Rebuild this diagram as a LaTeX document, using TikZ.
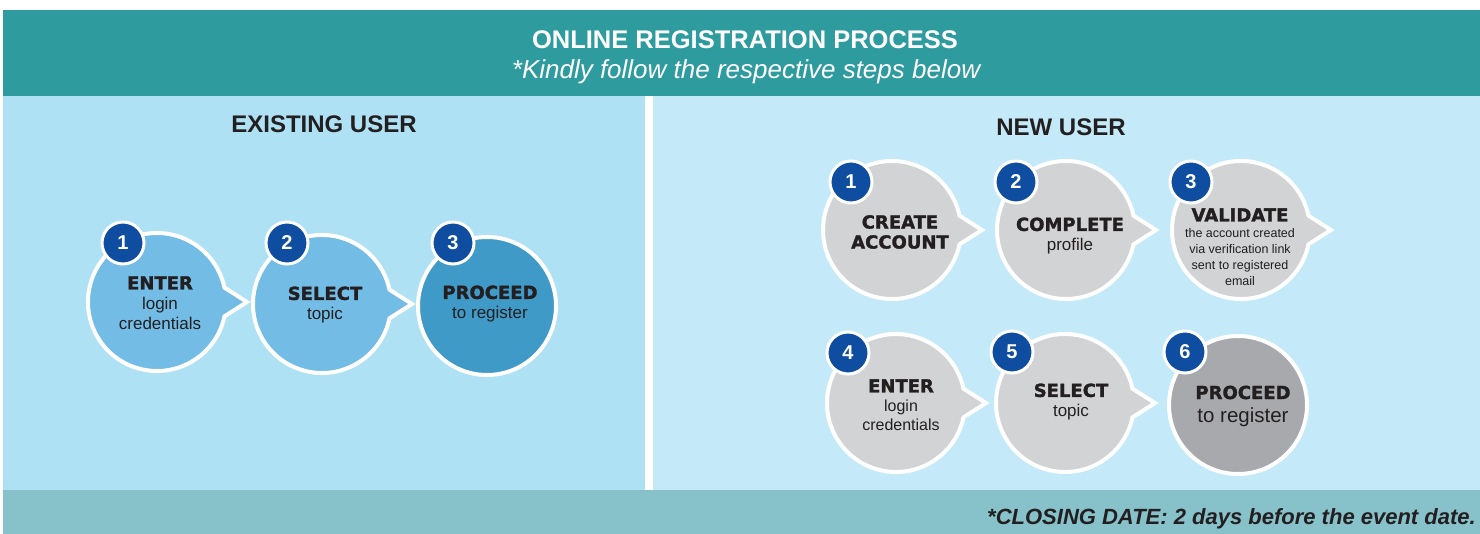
\documentclass[tikz,border=0pt]{standalone}
\usepackage{fontspec}
\setmainfont{Liberation Sans}
\newfontfamily\heavyfont{DejaVu Sans}[BoldFeatures={FakeBold=1.6}]

\definecolor{headteal}{HTML}{2E9B9F}
\definecolor{leftsky}{HTML}{AFE1F5}
\definecolor{rightsky}{HTML}{C4E9F9}
\definecolor{footteal}{HTML}{87C1CA}
\definecolor{skyblue}{HTML}{73BCE6}
\definecolor{deepblue}{HTML}{3F9AC7}
\definecolor{softgrey}{HTML}{D1D3D4}
\definecolor{darkgrey}{HTML}{A7A9AC}
\definecolor{badgeblue}{HTML}{0E4DA0}
\definecolor{ink}{HTML}{231F20}

\newcommand{\stepword}[1]{{\heavyfont\bfseries\fontsize{18}{20}\selectfont #1}}

\tikzset{
    bubble/.style={draw=white, line width=4pt, fill=#1},
    endbubble/.style={circle, draw=white, line width=4pt, fill=#1, minimum size=138pt, inner sep=0pt},
    badge/.style={circle, fill=badgeblue, draw=white, line width=3pt, minimum size=42pt, inner sep=0pt,
        text=white, font=\bfseries\fontsize{20}{20}\selectfont},
    steptext/.style={align=center, text=ink, inner sep=0pt, font=\fontsize{17}{20}\selectfont},
    heading/.style={text=ink, inner sep=0pt, font=\bfseries\fontsize{24}{28}\selectfont},
}

\begin{document}
\begin{tikzpicture}[x=1pt, y=-1pt]
        \useasboundingbox (0,0) rectangle (1480,534);
        \fill[white] (0,0) rectangle (1480,534);
        % bands and panels
        \fill[headteal] (3,10) rectangle (1480,96);
        \fill[leftsky] (3,96) rectangle (645,490);
        \fill[rightsky] (653,96) rectangle (1480,490);
        \fill[footteal] (3,490) rectangle (1480,534);

        \node[text=white, inner sep=0pt, font=\bfseries\fontsize{25.5}{28}\selectfont] (title) at (745,40) {ONLINE REGISTRATION PROCESS};
        \node[text=white, inner sep=0pt, font=\itshape\fontsize{26}{28}\selectfont] (subtitle) at (746,72) {*Kindly follow the respective steps below};
        \node[heading] (existing) at (324,124) {EXISTING USER};
        \node[heading] (newuser) at (1061,127) {NEW USER};
        \node[text=ink, anchor=east, inner sep=0pt, font=\bfseries\itshape\fontsize{22}{24}\selectfont] (closing) at (1476,519) {*CLOSING DATE: 2 days before the event date.};

        % bubbles with a tail
        \foreach \cx/\cy/\col in {157/302/skyblue, 322/304/skyblue, 892/230/softgrey, 1066/230/softgrey,
                1241/230/softgrey, 896/403/softgrey, 1065/403/softgrey}
            \filldraw[bubble=\col] (\cx,\cy) ++(12:69) arc[start angle=12, end angle=348, radius=69] -- (\cx+90,\cy) -- cycle;
        \node[endbubble=deepblue] (x3c) at (487,306) {};
        \node[endbubble=darkgrey] (n6c) at (1238,405) {};

        % existing user
        \node[steptext] (x1) at (160,303) {\stepword{ENTER}\\login\\credentials};
        \node[steptext] (x2) at (325,305) {\stepword{SELECT}\\topic};
        \node[steptext] (x3) at (490,304) {\stepword{PROCEED}\\to register};
        \node[badge] (x1num) at (123,243) {1};
        \node[badge] (x2num) at (287,243) {2};
        \node[badge] (x3num) at (453,243) {3};

        % new user
        \node[steptext] (n1) at (900,232) {\stepword{CREATE}\\\stepword{ACCOUNT}};
        \node[steptext] (n2) at (1070,236) {\stepword{COMPLETE}\\profile};
        \node[steptext, font=\fontsize{12.5}{16}\selectfont] (n3) at (1240,247) {\stepword{VALIDATE}\\the account created\\via verification link\\sent to registered\\email};
        \node[steptext, font=\fontsize{16}{19}\selectfont] (n4) at (901,405) {\stepword{ENTER}\\login\\credentials};
        \node[steptext] (n5) at (1071,402) {\stepword{SELECT}\\topic};
        \node[steptext, font=\fontsize{20.5}{23}\selectfont] (n6) at (1243,406) {\stepword{PROCEED}\\to register};
        \node[badge] (n1num) at (851,182) {1};
        \node[badge] (n2num) at (1016,182) {2};
        \node[badge] (n3num) at (1191,182) {3};
        \node[badge] (n4num) at (848,353) {4};
        \node[badge] (n5num) at (1012,352) {5};
        \node[badge] (n6num) at (1185,352) {6};
\end{tikzpicture}
\end{document}
